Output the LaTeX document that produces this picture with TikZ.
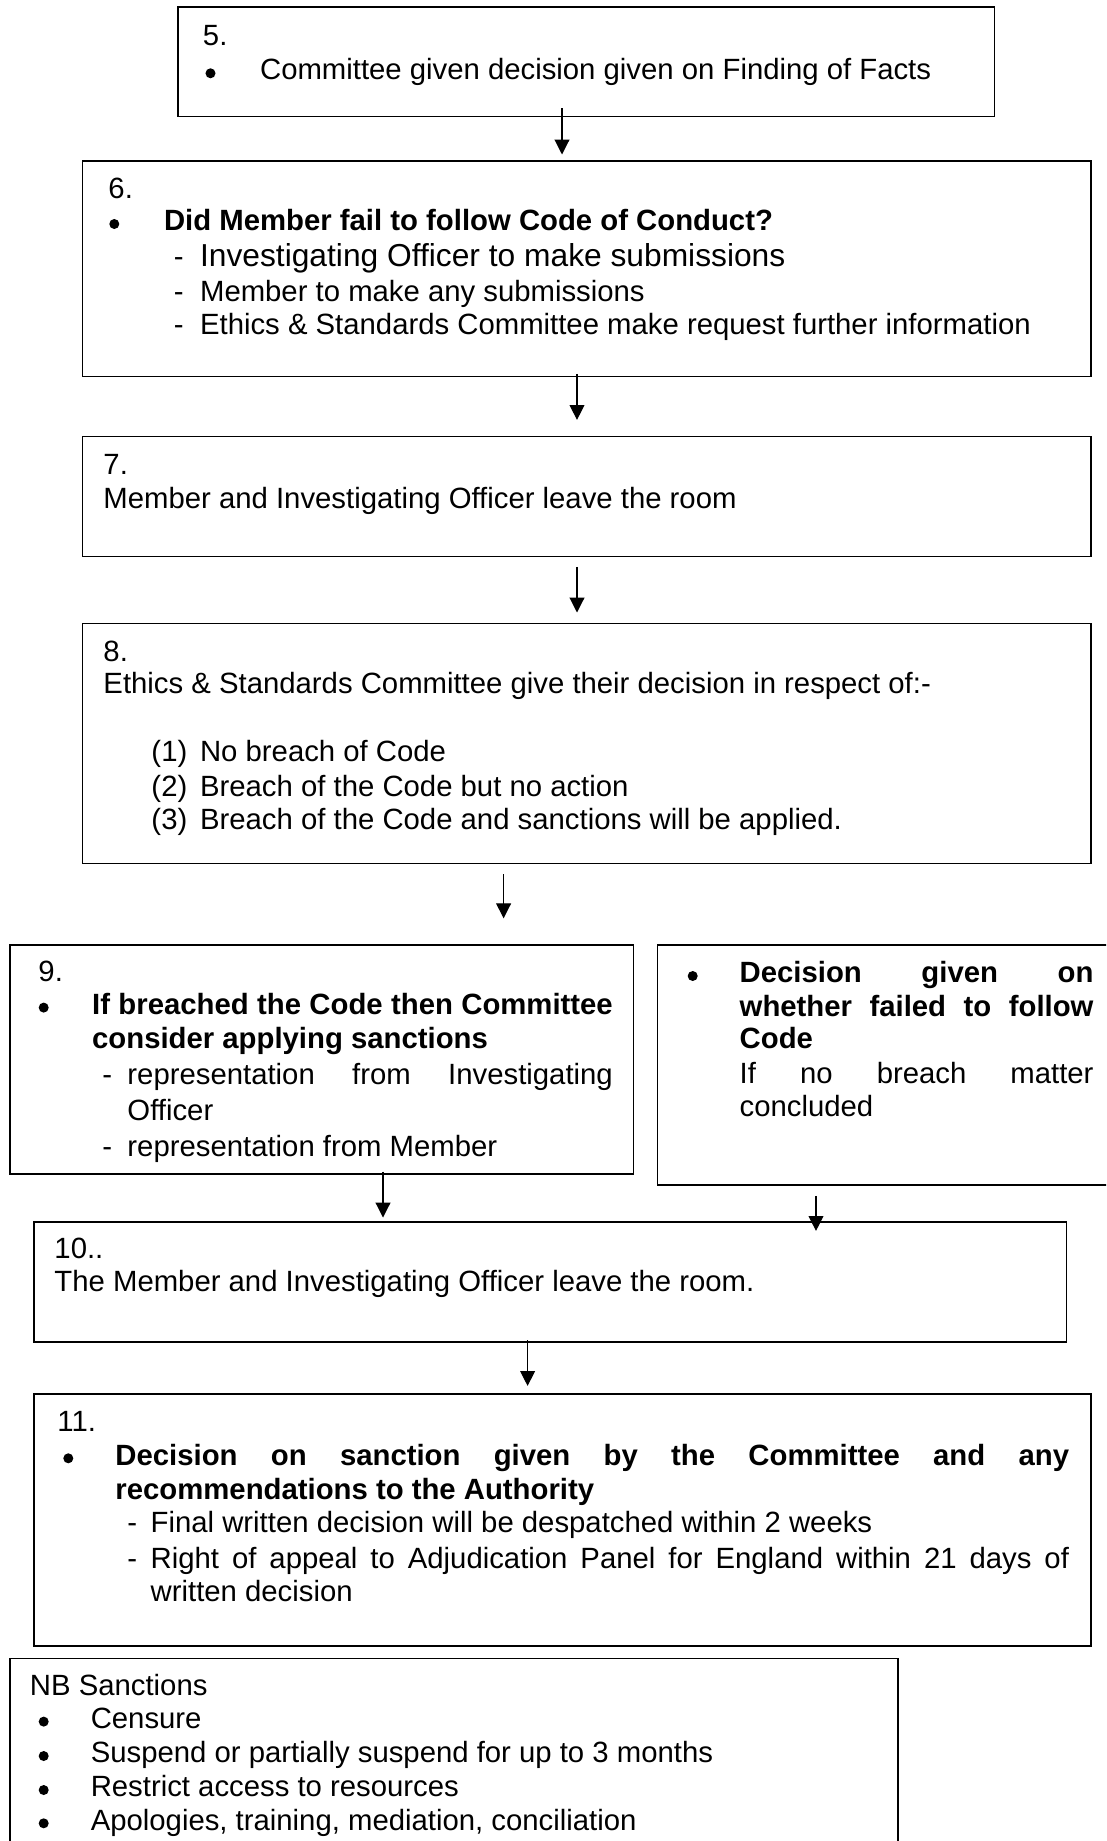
\documentclass[tikz,border=0pt]{standalone}
\usepackage{fontspec}
\setmainfont{Liberation Sans}
\usetikzlibrary{arrows.meta,fit,calc}
\newlength\pxu
\setlength\pxu{0.4095pt}
\begin{document}
\begin{tikzpicture}[x=0.4095pt,y=-0.4095pt,
  box/.style={draw,line width=0.65pt,inner sep=0pt},
  txt/.style={anchor=base west,inner sep=0pt,font=\fontsize{12}{14}\selectfont},
  dot/.style={circle,fill,draw=none,inner sep=0pt,minimum size=4.1pt},
  arr/.style={-{Triangle[length=6.1pt,width=6.1pt]},line width=0.45pt}]
\useasboundingbox (0,0) rectangle (1106,1841);
\clip (0,0) rectangle (1106,1841);
% boxes
\node[box,fit={(177.8,7.3)(994.6,116.7)}] (b5) {};
\node[box,fit={(82.5,161)(1091.2,376.7)}] (b6) {};
\node[box,fit={(82.5,436.7)(1091.2,556.7)}] (b7) {};
\node[box,fit={(82.5,623.3)(1091.2,863.3)}] (b8) {};
\node[box,fit={(9.9,945)(633.4,1174)}] (b9) {};
\node[box,fit={(657.4,945)(1125,1185)}] (bd) {};
\node[box,fit={(33.9,1221.7)(1066.5,1341.7)}] (b10) {};
\node[box,fit={(33.9,1394)(1091.2,1646)}] (b11) {};
\node[box,fit={(9.9,1658.3)(898,1870)}] (bnb) {};
% box 5
\node[txt] (t5n) at (202.5,45.7) {5.};
\node[dot] (t5b) at (210.5,73.3) {};
\node[txt] (t5a) at (259.6,80) {Committee given decision given on Finding of Facts};
% box 6
\node[txt] (t6n) at (108,199) {6.};
\node[dot] (t6b) at (114.3,224) {};
\node[txt] (t6a) at (163.6,230.7) {\bfseries Did Member fail to follow Code of Conduct?};
\node[txt] (t6d1) at (173.5,266.7) {-};
\node[txt,font=\fontsize{13}{15}\selectfont] (t6l1) at (199.6,266.7) {Investigating Officer to make submissions};
\node[txt] (t6d2) at (173.5,301.7) {-};
\node[txt] (t6l2) at (199.6,301.7) {Member to make any submissions};
\node[txt] (t6d3) at (173.5,335) {-};
\node[txt] (t6l3) at (199.6,335) {Ethics \& Standards Committee make request further information};
% box 7
\node[txt] (t7n) at (103,475) {7.};
\node[txt] (t7a) at (103,508.3) {Member and Investigating Officer leave the room};
% box 8
\node[txt] (t8n) at (103,661) {8.};
\node[txt] (t8a) at (103,693.3) {Ethics \& Standards Committee give their decision in respect of:-};
\node[txt] (t8i1) at (151,761.7) {(1)};
\node[txt] (t8l1) at (199.6,761.7) {No breach of Code};
\node[txt] (t8i2) at (151,796) {(2)};
\node[txt] (t8l2) at (199.6,796) {Breach of the Code but no action};
\node[txt] (t8i3) at (151,829.3) {(3)};
\node[txt] (t8l3) at (199.6,829.3) {Breach of the Code and sanctions will be applied.};
% box 9
\node[txt] (t9n) at (38,981.7) {9.};
\node[dot] (t9b) at (43.7,1007.6) {};
\node[txt] (t9a) at (91.7,1014.3) {\bfseries\makebox[520.6\pxu][s]{If breached the Code then Committee}};
\node[txt] (t9a2) at (91.7,1048.3) {\bfseries consider applying sanctions};
\node[txt] (t9d1) at (102,1084) {-};
\node[txt] (t9l1) at (127,1084) {\makebox[485.3\pxu][s]{representation from Investigating}};
\node[txt] (t9l1b) at (127,1120) {Officer};
\node[txt] (t9d2) at (102,1156.7) {-};
\node[txt] (t9l2) at (127,1156.7) {representation from Member};
% decision box
\node[dot] (tdb) at (692.7,976) {};
\node[txt] (tda) at (739.2,982.7) {\bfseries\makebox[353.8\pxu][s]{Decision given on}};
\node[txt] (tdb2) at (739.2,1016) {\bfseries\makebox[353.8\pxu][s]{whether failed to follow}};
\node[txt] (tdc) at (739.2,1048.3) {\bfseries Code};
\node[txt] (tdd) at (739.2,1083.3) {\makebox[353.8\pxu][s]{If no breach matter}};
\node[txt] (tde) at (739.2,1116.7) {concluded};
% box 10
\node[txt] (t10n) at (54,1258.3) {10..};
\node[txt] (t10a) at (54,1291.7) {The Member and Investigating Officer leave the room.};
% box 11
\node[txt] (t11n) at (57,1431.7) {11.};
\node[dot] (t11b) at (68.3,1458.3) {};
\node[txt] (t11a) at (115,1465) {\bfseries\makebox[953.6\pxu][s]{Decision on sanction given by the Committee and any}};
\node[txt] (t11a2) at (115,1499.3) {\bfseries recommendations to the Authority};
\node[txt] (t11d1) at (127,1532.7) {-};
\node[txt] (t11l1) at (150.2,1532.7) {Final written decision will be despatched within 2 weeks};
\node[txt] (t11d2) at (127,1568.3) {-};
\node[txt] (t11l2) at (150.2,1568.3) {\makebox[918.4\pxu][s]{Right of appeal to Adjudication Panel for England within 21 days of}};
\node[txt] (t11l2b) at (150.2,1601.7) {written decision};
% NB box
\node[txt] (tnb) at (29.5,1695) {NB Sanctions};
\node[dot] (tnb1) at (43.7,1721.6) {};
\node[txt] (tnl1) at (90.3,1728.3) {Censure};
\node[dot] (tnb2) at (43.7,1756) {};
\node[txt] (tnl2) at (90.3,1762.7) {Suspend or partially suspend for up to 3 months};
\node[dot] (tnb3) at (43.7,1790) {};
\node[txt] (tnl3) at (90.3,1796.7) {Restrict access to resources};
\node[dot] (tnb4) at (43.7,1823.3) {};
\node[txt] (tnl4) at (90.3,1830) {Apologies, training, mediation, conciliation};
% connectors
\coordinate (c1) at (562,0);
\coordinate (c2) at (577,0);
\coordinate (c3) at (503.6,0);
\coordinate (c4) at (383,0);
\coordinate (c5) at (816,0);
\coordinate (c6) at (527.6,0);
\coordinate (e4) at (503.6,918.3);
\draw[arr] ($(b5.south -| c1)+(0,-9.4)$) -- ($(b6.north -| c1)+(0,-5.7)$);
\draw[arr] ($(b6.south -| c2)+(0,-3.7)$) -- ($(b7.north -| c2)+(0,-16)$);
\draw[arr] ($(b7.south -| c2)+(0,9.3)$) -- ($(b8.north -| c2)+(0,-10)$);
\draw[arr] ($(b8.south -| c3)+(0,10)$) -- (e4);
\draw[arr] ($(b9.south -| c4)+(0,-3.3)$) -- ($(b10.north -| c4)+(0,-3.4)$);
\draw[arr] ($(bd.south -| c5)+(0,10)$) -- ($(b10.north -| c5)+(0,10)$);
\draw[arr] ($(b10.south -| c6)+(0,-2.4)$) -- ($(b11.north -| c6)+(0,-7.3)$);
\end{tikzpicture}
\end{document}
